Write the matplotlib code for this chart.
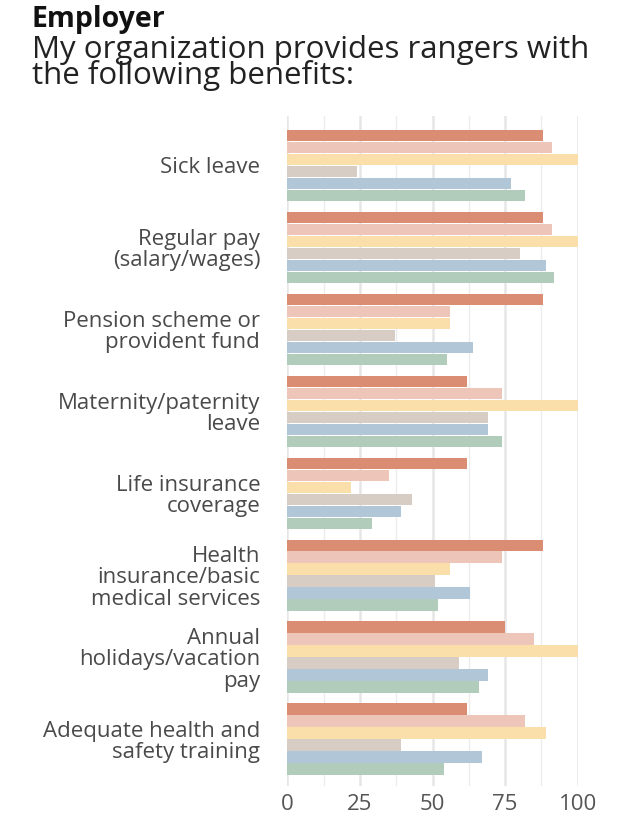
import matplotlib
matplotlib.use("Agg")
import matplotlib.pyplot as plt
import numpy as np
from matplotlib.ticker import MultipleLocator

plt.rcParams['font.family'] = ['Open Sans', 'DejaVu Sans']

categories = [
    "Sick leave",
    "Regular pay\n(salary/wages)",
    "Pension scheme or\nprovident fund",
    "Maternity/paternity\nleave",
    "Life insurance\ncoverage",
    "Health\ninsurance/basic\nmedical services",
    "Annual\nholidays/vacation\npay",
    "Adequate health and\nsafety training",
]

series_a = [88, 88, 88, 62, 62, 88, 75, 62]
series_b = [91, 91, 56, 74, 35, 74, 85, 82]
series_c = [100, 100, 56, 100, 22, 56, 100, 89]
series_d = [24, 80, 37, 69, 43, 51, 59, 39]
series_e = [77, 89, 64, 69, 39, 63, 69, 67]
series_f = [82, 92, 55, 74, 29, 52, 66, 54]

series = [series_a, series_b, series_c, series_d, series_e, series_f]
colors = ["#DB8D74", "#EDC5B9", "#FBDFAB", "#D8CDC4", "#B1C6D7", "#B1CCBA"]

x_ticks = [0, 25, 50, 75, 100]

fig = plt.figure(figsize=(6.3, 8.16), dpi=100)
ax = fig.add_axes([287.3 / 630, 1 - 786 / 816, 290.4 / 630, 670 / 816])

bar_h = 12 / 82
centers = np.arange(len(categories))
for j, (vals, col) in enumerate(zip(series, colors)):
    offs = (j - 2.5) * bar_h
    ax.barh(centers + offs, vals, height=bar_h * 0.93, color=col,
            edgecolor="none", zorder=3)

ax.set_xlim(0, 100)
ax.set_ylim(7.573, -0.6)

ax.xaxis.set_major_locator(MultipleLocator(25))
ax.xaxis.set_minor_locator(MultipleLocator(12.5))
ax.set_xticks(x_ticks)
ax.set_xticklabels([str(t) for t in x_ticks], color="#555555", fontsize=16)
ax.grid(axis="x", which="major", color="#e6e6e6", linewidth=1.8, zorder=0)
ax.grid(axis="x", which="minor", color="#ececec", linewidth=1.0, zorder=0)
ax.tick_params(axis="x", which="both", length=0, pad=6)

ax.set_yticks(centers)
ax.set_yticklabels(categories, color="#4a4a4a", fontsize=16,
                   linespacing=1.02)
ax.tick_params(axis="y", length=0, pad=19.5)

for s in ax.spines.values():
    s.set_visible(False)

fig.text(32 / 630, 1 - 19 / 816, "Employer", fontsize=20.5, fontweight="bold",
         color="#111111", va="center", ha="left")
fig.text(32 / 630, 1 - 63 / 816,
         "My organization provides rangers with\nthe following benefits:",
         fontsize=22.5, color="#222222", va="center", ha="left",
         linespacing=0.82)

fig.savefig("out.png", dpi=100)
